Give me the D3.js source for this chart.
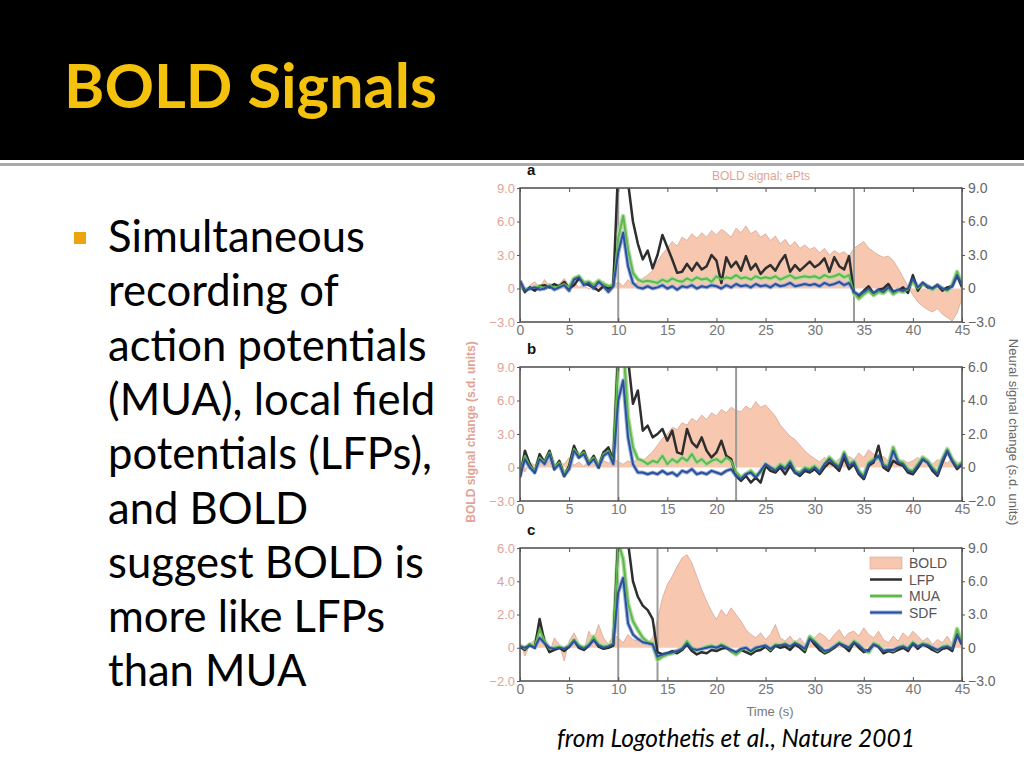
<!DOCTYPE html>
<html>
<head>
<meta charset="utf-8">
<title>BOLD Signals</title>
<style type="text/css">
    body{
        margin: 0;
        background-color: #fff;
    }
    svg{
        display: block;
        background-color: #fff;
    }
    .fig text{
        font-family: "Liberation Sans", Arial, sans-serif;
    }
    .axis path{
        stroke: none;
    }
    .axis line{
        stroke: #555;
        stroke-width: 1px;
    }
    .xaxis text{
        fill: #777;
        font-size: 14px;
    }
    .laxis text{
        fill: #e2a394;
        font-size: 13px;
    }
    .raxis text{
        fill: #666;
        font-size: 14px;
    }
</style>
<script type="text/javascript" src="https://cdn.jsdelivr.net/npm/d3@7/dist/d3.min.js"></script>
</head>
<body>
<div id="chart"></div>
<script type="text/javascript">
    var width = 1024, height = 768;

    // time samples, every 0.5 s from 0 to 45 s
    var time = d3.range(0, 45.01, 0.5);
    var xTicks = [0, 5, 10, 15, 20, 25, 30, 35, 40, 45];

    // panel a  (BOLD left axis -3..9, neural right axis -3..9)
    var boldA = [0.2,-0.5,0.3,0.6,0.1,0.8,0.2,-0.2,0.4,0.9,0.3,0.6,0.1,0.4,-0.1,0.5,0.2,0.7,-0.2,0.3,
        0.6,0.2,0.8,0.3,0.6,0.9,1.2,1.6,
        2.4,3.1,3.6,4.2,3.8,4.6,4.3,4.9,4.5,5.0,4.6,5.2,
        4.8,5.3,5.0,4.6,5.4,5.0,5.6,4.9,5.2,4.6,
        4.9,4.3,4.7,4.0,4.4,3.8,4.2,3.6,3.9,3.5,
        3.7,3.2,3.6,3.0,3.4,3.1,3.3,2.9,
        3.6,3.9,4.2,3.6,3.3,3.0,2.8,2.9,2.5,1.8,1.0,0.2,
        -0.6,-1.2,-1.6,-1.9,-2.1,-1.8,-2.3,-2.6,-2.9,-2.2,-0.9];
    var lfpA = [0.6,-0.3,0.1,-0.2,0.2,0.3,0.1,0.4,0.2,0.6,0.0,0.3,0.9,0.5,0.3,0.1,-0.2,0.2,0.0,0.3,
        11,12,9.5,6.0,4.0,2.6,3.4,1.8,
        3.0,4.8,3.7,2.6,1.4,1.5,2.2,1.6,2.3,1.7,2.0,3.0,
        2.5,0.5,2.8,1.9,2.4,1.6,2.9,1.7,2.2,1.3,
        1.8,2.1,1.6,2.4,3.0,1.5,2.1,1.6,2.0,2.4,
        1.9,2.2,2.7,1.5,2.8,2.0,1.7,2.9,
        -0.4,-0.7,-0.2,0.2,-0.5,-0.1,0.0,0.4,-0.3,-0.2,0.1,-0.4,
        1.2,-0.2,0.5,0.1,0.0,0.3,-0.2,0.1,0.2,1.2,0.1];
    var muaA = [0.3,-0.1,0.0,0.1,0.2,0.0,0.3,0.1,0.2,0.4,0.1,0.9,1.1,0.5,0.6,0.3,0.7,0.4,0.2,0.3,
        4.5,6.5,3.5,1.4,0.8,0.6,0.7,0.6,
        0.5,0.8,0.6,0.9,0.7,0.6,0.9,0.7,1.0,0.8,0.9,0.6,
        1.1,0.8,1.0,0.9,1.2,0.9,1.0,0.8,1.1,0.9,
        1.0,0.9,1.1,0.8,1.0,1.2,0.9,1.0,1.1,1.0,
        1.1,0.9,1.2,1.0,1.1,1.3,1.0,1.2,
        -0.4,-0.9,-0.5,-0.2,-0.6,-0.3,-0.4,0.0,-0.5,-0.2,-0.3,-0.1,
        0.7,0.0,0.4,0.2,-0.1,0.3,0.0,-0.2,0.3,1.5,0.3];
    var sdfA = [0.7,-0.2,0.0,0.1,-0.1,0.0,0.2,-0.1,0.1,0.3,-0.2,0.8,1.0,0.3,0.5,0.0,0.6,0.2,-0.3,0.2,
        3.2,5.0,2.0,0.5,0.1,0.0,0.2,0.0,
        0.1,0.3,0.0,0.2,-0.1,0.2,0.1,0.3,0.0,0.2,0.1,0.3,
        0.2,0.0,0.3,0.1,0.4,0.2,0.3,0.1,0.4,0.2,
        0.3,0.1,0.4,0.2,0.3,0.5,0.2,0.3,0.4,0.3,
        0.4,0.2,0.5,0.3,0.4,0.6,0.3,0.5,
        -0.3,-0.6,-0.3,0.0,-0.4,-0.1,-0.3,0.1,-0.3,-0.1,-0.2,0.0,
        0.9,0.1,0.5,0.2,0.0,0.3,0.0,-0.1,0.2,1.2,0.3];

    // panel b  (BOLD left axis -3..9, neural right axis -2..6)
    var boldB = [0.3,-0.4,0.5,0.2,0.8,0.1,0.6,-0.2,0.4,0.3,0.9,0.2,0.5,0.1,0.7,0.3,0.2,0.6,0.4,0.8,
        0.5,0.3,0.6,0.4,0.8,0.6,1.0,1.4,
        2.0,2.6,3.0,3.6,3.4,4.0,3.8,4.4,4.1,4.7,4.3,4.9,
        4.6,5.2,4.9,5.4,5.1,5.0,5.5,5.2,5.9,5.4,
        5.6,5.1,4.6,3.8,3.3,2.8,2.5,2.0,1.5,1.1,
        0.8,0.5,0.9,0.6,0.4,0.8,0.5,1.0,
        0.7,1.3,0.9,1.6,1.2,0.8,1.0,0.6,0.9,0.5,0.7,0.4,
        0.6,0.9,0.5,0.8,0.3,0.7,0.6,0.4,0.8,0.5,0.3];
    var lfpB = [-0.6,1.0,0.2,-0.3,0.8,0.3,1.0,-0.1,0.4,-0.5,0.1,1.3,0.6,1.0,0.2,0.7,0.0,0.9,1.2,0.4,
        7.0,8.0,6.5,3.8,4.6,2.2,2.5,1.8,
        2.0,2.3,1.6,2.2,0.9,0.8,2.3,1.5,1.2,1.8,1.0,0.6,
        0.9,1.6,0.7,0.5,-0.5,-0.8,-0.5,-0.9,-0.6,-0.9,
        0.1,-0.2,-0.3,0.0,-0.4,0.1,-0.3,-0.5,-0.2,-0.3,
        -0.1,-0.4,0.0,0.3,0.1,-0.2,0.6,-0.1,
        0.2,-0.4,-0.7,0.1,0.3,1.3,0.0,-0.2,0.4,0.2,0.1,-0.3,
        -0.4,0.0,0.5,0.3,-0.2,-0.5,0.3,1.0,0.4,-0.1,0.2];
    var muaB = [-0.4,0.7,0.1,-0.2,0.6,0.3,0.9,0.0,0.3,-0.4,0.0,1.1,0.7,0.9,0.3,0.6,0.1,0.8,1.0,0.3,
        6.5,7.5,3.0,1.2,0.5,0.4,0.2,0.4,
        0.3,0.7,0.2,0.5,0.3,0.6,0.4,0.8,0.3,0.5,0.2,0.4,
        0.5,0.3,0.6,0.4,-0.3,-0.6,-0.4,-0.2,-0.5,-0.3,
        0.2,0.0,-0.1,0.2,0.0,0.4,-0.2,-0.3,0.0,-0.1,
        0.1,-0.2,0.2,0.6,0.3,0.1,0.9,0.2,
        0.4,-0.2,-0.5,0.3,0.5,0.6,0.2,0.1,1.2,0.4,0.3,-0.1,
        -0.2,0.2,0.6,0.4,0.0,-0.3,0.5,1.1,0.5,0.1,0.3];
    var sdfB = [-0.5,0.5,0.0,-0.3,0.5,0.2,0.8,-0.1,0.2,-0.5,-0.1,1.0,0.6,0.8,0.2,0.5,0.0,0.7,0.9,0.2,
        4.0,5.2,1.8,0.2,-0.3,-0.3,-0.4,-0.3,
        -0.4,-0.2,-0.4,-0.3,-0.5,-0.2,-0.3,-0.1,-0.4,-0.3,-0.4,-0.2,
        -0.3,-0.4,-0.2,-0.1,-0.5,-0.7,-0.4,-0.3,-0.6,-0.2,
        0.2,0.0,-0.2,0.1,-0.1,0.3,-0.3,-0.4,-0.1,-0.2,
        0.0,-0.3,0.2,0.5,0.2,0.0,0.8,0.1,
        0.3,-0.3,-0.6,0.2,0.4,0.7,0.1,0.0,1.0,0.3,0.2,-0.2,
        -0.3,0.1,0.5,0.3,-0.1,-0.4,0.4,1.0,0.4,0.0,0.2];

    // panel c  (BOLD left axis -2..6, neural right axis -3..9)
    var boldC = [0.3,-0.5,0.2,0.5,1.2,0.4,-0.3,0.6,0.2,-0.8,0.4,0.9,0.3,-0.2,1.0,0.5,1.4,0.6,0.2,0.8,
        0.6,0.3,0.8,0.5,0.4,0.7,0.3,0.6,
        1.7,3.0,3.8,4.3,4.9,5.4,5.6,5.1,4.3,3.5,2.8,2.2,
        1.7,2.3,1.9,2.4,2.0,1.6,1.1,0.8,0.6,0.9,
        0.5,0.8,1.4,0.6,0.4,0.7,0.3,0.6,0.2,0.5,
        0.6,0.9,0.7,0.4,0.8,1.1,0.6,0.9,
        1.0,0.7,1.2,0.8,0.6,1.0,0.5,0.3,0.7,0.4,0.9,0.6,
        1.0,0.7,0.4,0.6,0.2,0.5,0.3,0.7,0.2,0.4,0.6];
    var lfpC = [0.1,-0.2,0.3,0.0,2.6,0.5,-0.4,-0.2,0.0,-0.3,0.1,0.7,0.0,-0.2,0.2,0.8,0.1,-0.1,0.0,0.2,
        10,11,9.5,6.0,4.6,3.8,3.4,2.6,
        -0.4,-0.6,-0.5,-0.3,-0.5,-0.2,0.3,-0.3,-0.6,-0.4,-0.5,-0.2,
        -0.3,-0.1,0.0,-0.3,-0.5,-0.2,-0.4,-0.6,-0.3,-0.2,
        0.1,-0.3,0.2,0.0,0.1,-0.2,0.3,0.0,-0.4,0.9,
        0.3,-0.2,-0.5,-0.3,0.0,0.4,0.1,-0.3,
        0.5,0.0,-0.4,-0.2,0.3,0.1,-0.5,-0.3,-0.4,-0.2,0.0,-0.3,
        0.4,-0.1,0.3,0.1,-0.2,-0.4,-0.1,0.0,-0.3,1.2,0.3];
    var muaC = [0.2,-0.1,0.3,0.1,1.7,0.6,-0.1,0.0,0.1,-0.1,0.2,0.7,0.2,0.0,0.3,1.0,0.3,0.1,0.2,0.4,
        9.5,8.0,4.0,2.4,1.6,0.9,0.5,0.4,
        -1.1,-0.8,-0.6,-0.5,-0.3,-0.1,0.6,0.0,-0.2,-0.1,0.1,0.2,
        0.0,0.3,0.1,-0.3,-0.6,-0.2,0.0,-0.4,-0.1,0.1,
        0.2,-0.2,0.3,0.2,0.4,0.1,0.5,0.2,-0.2,1.0,
        0.6,0.1,-0.4,-0.2,0.1,0.5,0.2,0.0,
        0.6,0.3,-0.2,-0.4,0.4,0.2,-0.3,-0.2,-0.3,0.0,0.2,-0.1,
        0.5,0.1,0.4,0.3,0.0,-0.3,0.1,0.2,-0.1,1.7,0.4];
    var sdfC = [0.1,0.0,0.2,0.0,0.9,0.4,0.0,-0.1,0.0,-0.1,0.1,0.6,0.1,-0.1,0.2,0.7,0.2,0.0,0.1,0.3,
        5.0,6.3,2.2,1.2,0.8,0.5,0.4,0.3,
        -0.8,-0.6,-0.5,-0.4,-0.3,-0.1,0.4,-0.1,-0.2,-0.1,0.0,0.1,
        0.0,0.2,0.0,-0.2,-0.4,-0.1,0.0,-0.3,0.0,0.1,
        0.2,-0.1,0.2,0.2,0.3,0.1,0.4,0.2,-0.1,0.8,
        0.5,0.1,-0.3,-0.2,0.1,0.4,0.2,0.0,
        0.5,0.2,-0.2,-0.3,0.3,0.1,-0.3,-0.2,-0.2,0.0,0.1,-0.1,
        0.4,0.1,0.3,0.2,0.0,-0.2,0.0,0.1,-0.1,1.2,0.3];

    // axis ticks
    var ticks9 = [-3, 0, 3, 6, 9];
    var ticks6 = [-2, 0, 2, 4, 6];

    var bulletLines = ['Simultaneous', 'recording of', 'action potentials', '(MUA), local field',
        'potentials (LFPs),', 'and BOLD', 'suggest BOLD is', 'more like LFPs', 'than MUA'];
    var legendNames = ['BOLD', 'LFP', 'MUA', 'SDF'];

    var colors = {bold: '#f8c7b0', boldEdge: '#c99585', lfp: '#2e2e2e', mua: '#5fb84c', muaHalo: '#b5dca5',
        sdf: '#2d4f9c', sdfHalo: '#9ab3da'};

    var panels = [
        {key: 'a', top: 188, bottom: 322, bold: boldA, lfp: lfpA, mua: muaA, sdf: sdfA,
            left: ticks9, right: ticks9, stim: [10, 34]},
        {key: 'b', top: 367, bottom: 501, bold: boldB, lfp: lfpB, mua: muaB, sdf: sdfB,
            left: ticks9, right: ticks6, stim: [10, 22]},
        {key: 'c', top: 548, bottom: 681, bold: boldC, lfp: lfpC, mua: muaC, sdf: sdfC,
            left: ticks6, right: ticks9, stim: [10, 14]}
    ];

    var svg = d3.select('#chart')
        .append('svg')
        .attr('width', width)
        .attr('height', height);

    // ---- slide header ----
    svg.append('rect').attr('x', 0).attr('y', 0).attr('width', width).attr('height', 160).attr('fill', '#000');
    svg.append('rect').attr('x', 0).attr('y', 163).attr('width', width).attr('height', 3).attr('fill', '#aaa');

    var title = svg.append('text')
        .attr('x', 64).attr('y', 108)
        .attr('font-family', 'Lato, "Open Sans", sans-serif')
        .attr('font-weight', 'bold')
        .attr('font-size', 64)
        .attr('fill', '#f4c20d')
        .text('BOLD Signals');
    fitWidth(title, 373);

    // ---- bullet ----
    svg.append('rect').attr('x', 74).attr('y', 232).attr('width', 12).attr('height', 12).attr('fill', '#eba40f');

    var bullets = svg.append('g').attr('font-family', 'Lato, "Open Sans", sans-serif').attr('fill', '#000');
    var bText = bullets.selectAll('text')
        .data(bulletLines)
        .enter()
        .append('text')
        .attr('x', 108)
        .attr('y', function(d, i){ return 252 + i * 54.3; })
        .attr('font-size', 40)
        .text(function(d){ return d; });
    var firstW = bText.nodes()[0].getComputedTextLength();
    bText.attr('font-size', 40 * 257 / firstW);

    var caption = svg.append('text')
        .attr('x', 557).attr('y', 747)
        .attr('font-family', 'Lato, "Open Sans", sans-serif')
        .attr('font-style', 'italic')
        .attr('font-size', 21)
        .attr('fill', '#000')
        .text('from Logothetis et al., Nature 2001');
    fitWidth(caption, 358);

    function fitWidth(sel, target){
        var w = sel.node().getComputedTextLength();
        var fs = parseFloat(sel.attr('font-size'));
        sel.attr('font-size', fs * target / w);
    }

    // ---- figure ----
    var fig = svg.append('g').attr('class', 'fig');

    var xScale = d3.scaleLinear().domain([0, 45]).range([520, 962]);

    function fmt(d){
        if (d === 0) return '0';
        return (d < 0 ? '\u2212' : '') + Math.abs(d).toFixed(1);
    }

    panels.forEach(function(p){
        var yLeft = d3.scaleLinear().domain([p.left[0], p.left[p.left.length - 1]]).range([p.bottom, p.top]);
        var yRight = d3.scaleLinear().domain([p.right[0], p.right[p.right.length - 1]]).range([p.bottom, p.top]);

        var g = fig.append('g').attr('class', 'panel-' + p.key);

        var clipId = 'clip-' + p.key;
        g.append('clipPath').attr('id', clipId)
            .append('rect')
            .attr('x', xScale(0)).attr('y', p.top)
            .attr('width', xScale(45) - xScale(0)).attr('height', p.bottom - p.top);

        var plot = g.append('g').attr('clip-path', 'url(#' + clipId + ')');

        var boldData = time.map(function(t, i){ return {t: t, v: p.bold[i]}; });
        var area = d3.area()
            .x(function(d){ return xScale(d.t); })
            .y0(yLeft(0))
            .y1(function(d){ return yLeft(d.v); });
        var boldEdge = d3.line()
            .x(function(d){ return xScale(d.t); })
            .y(function(d){ return yLeft(d.v); });

        plot.append('path').datum(boldData)
            .attr('d', area)
            .attr('fill', colors.bold);
        plot.append('path').datum(boldData)
            .attr('d', boldEdge)
            .attr('fill', 'none')
            .attr('stroke', colors.boldEdge)
            .attr('stroke-width', 0.6);

        // stimulus on / off lines
        plot.selectAll('.stim')
            .data(p.stim)
            .enter()
            .append('line')
            .attr('class', 'stim')
            .attr('x1', function(d){ return xScale(d); })
            .attr('x2', function(d){ return xScale(d); })
            .attr('y1', p.top).attr('y2', p.bottom)
            .attr('stroke', '#9a9a9a')
            .attr('stroke-width', 2);

        var neural = d3.line()
            .x(function(d, i){ return xScale(time[i]); })
            .y(function(d){ return yRight(d); });

        plot.append('path').datum(p.mua).attr('d', neural)
            .attr('fill', 'none').attr('stroke', colors.muaHalo).attr('stroke-width', 4.5).attr('stroke-linejoin', 'round');
        plot.append('path').datum(p.sdf).attr('d', neural)
            .attr('fill', 'none').attr('stroke', colors.sdfHalo).attr('stroke-width', 4).attr('stroke-linejoin', 'round');
        plot.append('path').datum(p.lfp).attr('d', neural)
            .attr('fill', 'none').attr('stroke', colors.lfp).attr('stroke-width', 2.5).attr('stroke-linejoin', 'round');
        plot.append('path').datum(p.mua).attr('d', neural)
            .attr('fill', 'none').attr('stroke', colors.mua).attr('stroke-width', 2).attr('stroke-linejoin', 'round');
        plot.append('path').datum(p.sdf).attr('d', neural)
            .attr('fill', 'none').attr('stroke', colors.sdf).attr('stroke-width', 2).attr('stroke-linejoin', 'round');

        // frame
        g.append('rect')
            .attr('x', xScale(0)).attr('y', p.top)
            .attr('width', xScale(45) - xScale(0)).attr('height', p.bottom - p.top)
            .attr('fill', 'none')
            .attr('stroke', '#555')
            .attr('stroke-width', 1.6);

        // axes
        g.append('g').attr('class', 'axis xaxis')
            .attr('transform', 'translate(0,' + p.bottom + ')')
            .call(d3.axisBottom(xScale).tickValues(xTicks).tickSizeInner(-4).tickSizeOuter(0).tickPadding(3));
        g.append('g').attr('class', 'axis')
            .attr('transform', 'translate(0,' + p.top + ')')
            .call(d3.axisTop(xScale).tickValues(xTicks).tickSizeInner(-4).tickSizeOuter(0).tickFormat(''));
        g.append('g').attr('class', 'axis laxis')
            .attr('transform', 'translate(' + xScale(0) + ',0)')
            .call(d3.axisLeft(yLeft).tickValues(p.left).tickSizeInner(3).tickSizeOuter(0).tickPadding(2).tickFormat(fmt));
        g.append('g').attr('class', 'axis raxis')
            .attr('transform', 'translate(' + xScale(45) + ',0)')
            .call(d3.axisRight(yRight).tickValues(p.right).tickSizeInner(3).tickSizeOuter(0).tickPadding(3).tickFormat(fmt));

        g.append('text')
            .attr('x', 527).attr('y', p.top - 13)
            .attr('font-size', 15).attr('font-weight', 'bold').attr('fill', '#111')
            .text(p.key);

        // legend in last panel
        if (p.key === 'c') {
            var lg = g.append('g').attr('class', 'legend');
            var rows = lg.selectAll('g')
                .data(legendNames)
                .enter()
                .append('g')
                .attr('transform', function(d, i){ return 'translate(870,' + (563 + i * 16.5) + ')'; });
            rows.each(function(d){
                var r = d3.select(this);
                if (d === 'BOLD') {
                    r.append('rect').attr('x', 0).attr('y', -6).attr('width', 32).attr('height', 12)
                        .attr('fill', colors.bold).attr('stroke', colors.boldEdge).attr('stroke-width', 0.5);
                } else {
                    var c = d === 'LFP' ? colors.lfp : d === 'MUA' ? colors.mua : colors.sdf;
                    if (d !== 'LFP') {
                        r.append('line').attr('x1', 0).attr('x2', 32).attr('y1', 0).attr('y2', 0)
                            .attr('stroke', d === 'MUA' ? colors.muaHalo : colors.sdfHalo).attr('stroke-width', 4);
                    }
                    r.append('line').attr('x1', 0).attr('x2', 32).attr('y1', 0).attr('y2', 0)
                        .attr('stroke', c).attr('stroke-width', d === 'LFP' ? 2.5 : 2);
                }
                r.append('text').attr('x', 39).attr('y', 5)
                    .attr('font-size', 14).attr('fill', '#555').text(d);
            });
        }
    });

    // figure labels
    fig.append('text')
        .attr('x', 712).attr('y', 180)
        .attr('font-size', 12).attr('fill', '#e2a394')
        .text('BOLD signal; ePts');

    fig.append('text')
        .attr('transform', 'translate(475,432) rotate(-90)')
        .attr('text-anchor', 'middle')
        .attr('font-size', 12).attr('font-weight', 'bold').attr('fill', '#e2a394')
        .text('BOLD signal change (s.d. units)');

    fig.append('text')
        .attr('transform', 'translate(1009,432) rotate(90)')
        .attr('text-anchor', 'middle')
        .attr('font-size', 13).attr('fill', '#666')
        .text('Neural signal change (s.d. units)');

    fig.append('text')
        .attr('x', 770).attr('y', 716)
        .attr('text-anchor', 'middle')
        .attr('font-size', 13).attr('fill', '#777')
        .text('Time (s)');
</script>
</body>
</html>
